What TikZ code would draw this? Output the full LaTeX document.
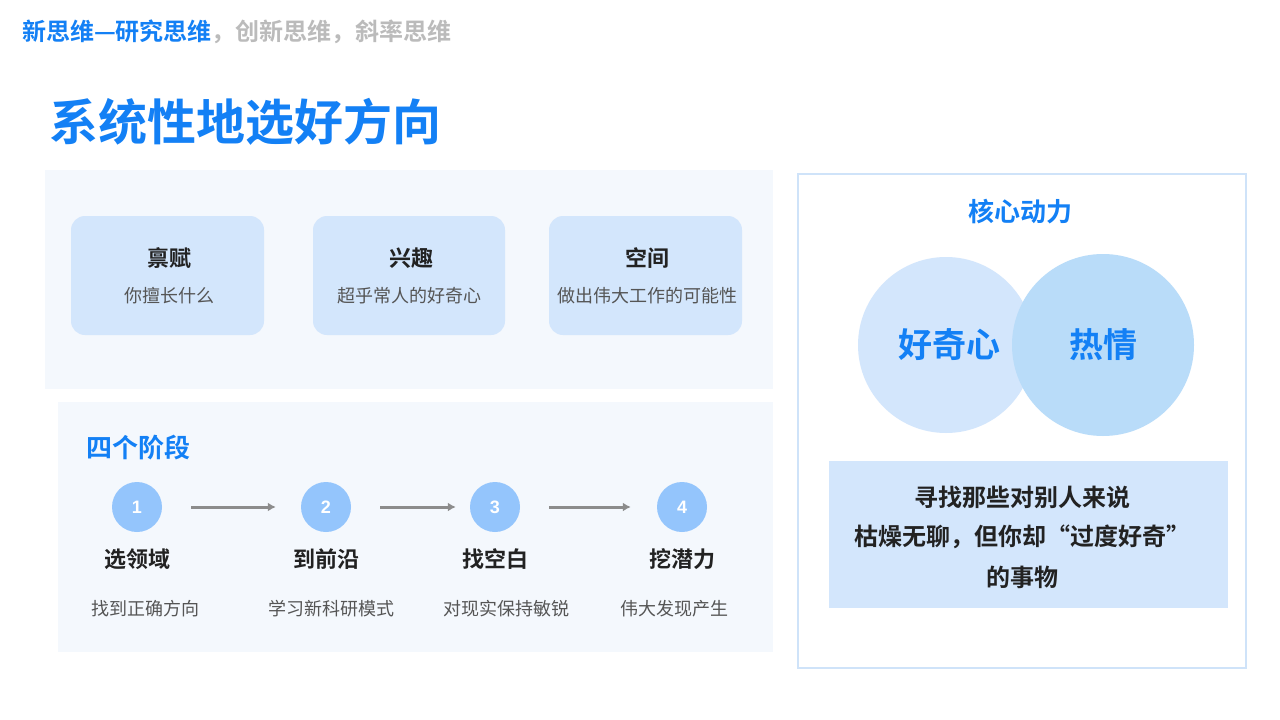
\documentclass[tikz,border=0pt]{standalone}
\usepackage{fontspec}
\usetikzlibrary{arrows.meta}
\setmainfont{Noto Sans CJK SC}
\newfontfamily\cjkb{Noto Sans CJK SC Bold}
\newfontfamily\numf{Liberation Sans}
\definecolor{cblue}{HTML}{1380F5}
\definecolor{cgray}{HTML}{BBBBBB}
\definecolor{panel}{HTML}{F4F8FD}
\definecolor{card}{HTML}{D3E6FC}
\definecolor{cnum}{HTML}{94C5FC}
\definecolor{chot}{HTML}{B9DCF9}
\definecolor{cbord}{HTML}{CFE3F9}
\definecolor{dark}{HTML}{222222}
\definecolor{sub}{HTML}{555555}
\begin{document}
\begin{tikzpicture}[x=1pt,y=-1pt,
  fs/.style={font=\fontsize{#1}{#1}\selectfont},
  bfs/.style={font=\cjkb\fontsize{#1}{#1}\selectfont},
  cardbox/.style={fill=card,rounded corners=14pt},
  ctitle/.style={bfs=22,text=dark},
  csub/.style={fs=18,text=sub},
  num/.style={circle,fill=cnum,minimum size=50pt,inner sep=0pt,text=white,font=\numf\bfseries\fontsize{18}{18}\selectfont},
  arr/.style={draw=gray!90,line width=3pt,-{Latex[length=8pt,width=9pt]}},
  stitle/.style={bfs=22,text=dark},
  ssub/.style={fs=18,text=sub},
  line/.style={bfs=24,text=dark}]
\useasboundingbox (0,0) rectangle (1280,720);
\fill[white] (0,0) rectangle (1280,720);
\node[anchor=west,bfs=24,inner sep=0] (hdr) at (22,32) {\textcolor{cblue}{新思维—研究思维}\textcolor{cgray}{，创新思维，斜率思维}};
\node[anchor=west,bfs=49,text=cblue,inner sep=0] (title) at (49,122) {系统性地选好方向};
\fill[panel] (45,170) rectangle (773,389);
\fill[cardbox] (71,216) rectangle (264,335);
\fill[cardbox] (313,216) rectangle (505,335);
\fill[cardbox] (549,216) rectangle (742,335);
\node[ctitle] (t1) at (169,258) {禀赋};
\node[csub] (s1) at (169,296) {你擅长什么};
\node[ctitle] (t2) at (411,258) {兴趣};
\node[csub] (s2) at (409,296) {超乎常人的好奇心};
\node[ctitle] (t3) at (647,258) {空间};
\node[csub] (s3) at (647,296) {做出伟大工作的可能性};
\fill[panel] (58,402) rectangle (773,652);
\node[anchor=west,bfs=26,text=cblue,inner sep=0] (stage) at (86,448) {四个阶段};
\node[num] (n1) at (137,507) {1};
\node[num] (n2) at (326,507) {2};
\node[num] (n3) at (495,507) {3};
\node[num] (n4) at (682,507) {4};
\draw[arr] ([xshift=29pt]n1.east) -- ([xshift=-25pt]n2.west);
\draw[arr] ([xshift=29pt]n2.east) -- ([xshift=-14pt]n3.west);
\draw[arr] ([xshift=29pt]n3.east) -- ([xshift=-26pt]n4.west);
\node[stitle] (l1) at (137,559) {选领域};
\node[stitle] (l2) at (326,559) {到前沿};
\node[stitle] (l3) at (495,559) {找空白};
\node[stitle] (l4) at (682,559) {挖潜力};
\node[ssub] (d1) at (145,609) {找到正确方向};
\node[ssub] (d2) at (331,609) {学习新科研模式};
\node[ssub] (d3) at (506,609) {对现实保持敏锐};
\node[ssub] (d4) at (674,609) {伟大发现产生};
\draw[cbord,line width=2.5pt,fill=white] (798,174) rectangle (1246,668);
\node[bfs=26,text=cblue] (core) at (1020,212) {核心动力};
\fill[card] (946,345) circle (88);
\fill[chot] (1103,345) circle (91);
\node[bfs=34,text=cblue] (c1) at (949,345) {好奇心};
\node[bfs=34,text=cblue] (c2) at (1103,345) {热情};
\fill[card] (829,461) rectangle (1228,608);
\node[line] (q1) at (1022,497) {寻找那些对别人来说};
\node[line] (q2) at (1022,537) {枯燥无聊，但你却“过度好奇”};
\node[line] (q3) at (1022,577) {的事物};
\end{tikzpicture}
\end{document}
